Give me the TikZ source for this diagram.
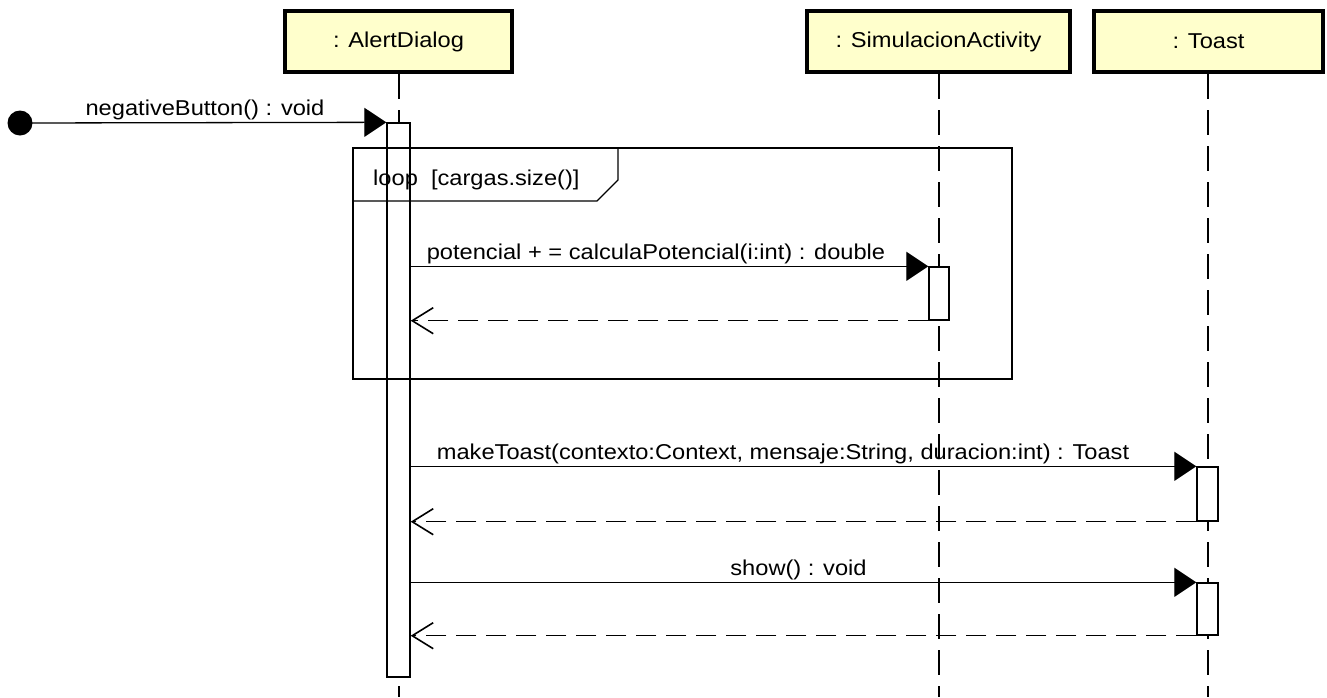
\documentclass[tikz,border=0pt]{standalone}
\usepackage{fontspec}
\setmainfont[FakeStretch=1.1]{Liberation Sans}
\usetikzlibrary{arrows.meta}
\definecolor{headfill}{HTML}{FFFFCC}
\begin{document}
\begin{tikzpicture}[x=1pt,y=-1pt,
  lbl/.style={font=\fontsize{21.5}{24}\selectfont, inner sep=0pt, anchor=base},
  head/.style={draw, line width=4pt, fill=headfill, inner sep=0pt, minimum height=61pt, font=\fontsize{21.5}{24}\selectfont},
  life/.style={line width=2pt, dash pattern=on 25pt off 11pt},
  act/.style={draw, fill=white, line width=1.4pt, inner sep=0pt},
  msg/.style={line width=1.3pt, -{Triangle[length=22pt,width=29pt]}},
  ret/.style={line width=1.3pt, dash pattern=on 20pt off 10pt, -{Straight Barb[length=21pt,width=26pt,line width=1.6pt]}},
  frame/.style={draw, line width=1.3pt, inner sep=0pt}
]
\useasboundingbox (0,0) rectangle (1327,697);

% headers
\node[head, minimum width=227pt] (hA) at (398.5,41.5) {: AlertDialog};
\node[head, minimum width=263pt] (hS) at (938.5,41.5) {: SimulacionActivity};
\node[head, minimum width=229pt] (hT) at (1208.5,41.5) {: Toast};

% lifelines
\coordinate (eA) at (398.5,697);
\coordinate (eS) at (939,697);
\coordinate (eT) at (1208,697);
\draw[life] (hA.south -| eA) -- (eA);
\draw[life] (hS.south -| eS) -- (eS);
\draw[life] (hT.south -| eT) -- (eT);

% activations
\node[act, minimum width=23pt, minimum height=554pt] (actA) at (398.5,400) {};
\node[act, minimum width=20pt, minimum height=53pt] (actS) at (939,293.5) {};
\node[act, minimum width=21pt, minimum height=54pt] (actT1) at (1207.5,494) {};
\node[act, minimum width=21pt, minimum height=52pt] (actT2) at (1207.5,609) {};

% loop frame (drawn over the activation)
\node[lbl, anchor=base west] (loopl) at (373,185) {loop\ \ [cargas.size()]};
\node[frame, minimum width=659pt, minimum height=231pt] (loop) at (682.5,263.5) {};
\draw[line width=1.3pt] (loop.north west |- 0,201) -- (597,201) -- (618,180) -- (618,148);
\draw[line width=1.4pt] (actA.north west) -- (actA.south west) (actA.north east) -- (actA.south east);

% found message
\node[circle, fill=black, minimum size=25pt, inner sep=0pt] (start) at (20,123) {};
\draw[msg] (start.center) -- (actA.north west);
\node[lbl] (l0) at (205,115) {negativeButton() : void};

% calculaPotencial
\draw[msg] (actA.east |- actS.north) -- (actS.north west);
\node[lbl] (l1) at (656,259) {potencial + = calculaPotencial(i:int) : double};
\draw[ret] (actS.south west) -- (actA.east |- actS.south);

% makeToast
\draw[msg] (actA.east |- actT1.north) -- (actT1.north west);
\node[lbl] (l2) at (783,459) {makeToast(contexto:Context, mensaje:String, duracion:int) : Toast};
\draw[ret] (actT1.south west) -- (actA.east |- actT1.south);

% show
\draw[msg] (actA.east |- actT2.north) -- (actT2.north west);
\node[lbl] (l3) at (798.5,575) {show() : void};
\draw[ret] (actT2.south west) -- (actA.east |- actT2.south);
\end{tikzpicture}
\end{document}
